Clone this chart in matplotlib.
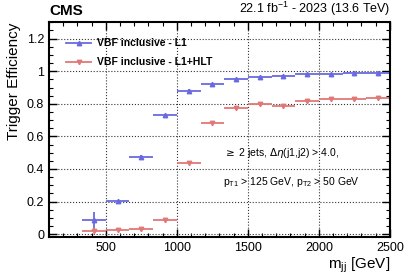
import numpy as np
from matplotlib import pyplot as plt
from matplotlib.ticker import MultipleLocator
from matplotlib.lines import Line2D

plt.rcParams['font.family'] = ['Liberation Sans', 'DejaVu Sans']

# 13 bins of mjj, width ~166.7 GeV
edges = [333.3, 500, 666.7, 833.3, 1000, 1166.7, 1333.3, 1500, 1666.7, 1833.3, 2000, 2166.7, 2333.3, 2500]
eff_l1 = [0.086, 0.204, 0.475, 0.730, 0.878, 0.924, 0.955, 0.965, 0.973, 0.980, 0.980, 0.986, 0.992]
err_l1 = [0.05, 0.008, 0.01, 0.01, 0.01, 0.006, 0.005, 0.004, 0.004, 0.004, 0.004, 0.004, 0.004]
eff_hlt = [0.020, 0.025, 0.030, 0.088, 0.438, 0.683, 0.772, 0.796, 0.786, 0.817, 0.831, 0.827, 0.835]
err_hlt = [0.015, 0.008, 0.008, 0.01, 0.01, 0.01, 0.01, 0.01, 0.01, 0.01, 0.01, 0.01, 0.01]

edges = np.array(edges)
centers = (edges[:-1] + edges[1:]) / 2
halfw = (edges[1:] - edges[:-1]) / 2

fig = plt.figure(figsize=(4.07, 2.76), dpi=100)
ax = fig.add_axes([0.1204, 0.1424, 0.8376, 0.7766])

blue = '#6a6ae0'
red = '#e07878'
ax.errorbar(centers, eff_l1, xerr=halfw, yerr=err_l1, fmt='^', color=blue,
            ms=3.2, lw=1.3, capsize=0)
ax.errorbar(centers, eff_hlt, xerr=halfw, yerr=err_hlt, fmt='v', color=red,
            ms=3.2, lw=1.3, capsize=0)

ax.set_xlim(100, 2500)
ax.set_ylim(-0.016, 1.3)
ax.xaxis.set_major_locator(MultipleLocator(500))
ax.xaxis.set_minor_locator(MultipleLocator(100))
ax.yaxis.set_minor_locator(MultipleLocator(0.05))
ax.set_yticks([0, 0.2, 0.4, 0.6, 0.8, 1.0, 1.2])
ax.set_yticklabels(['0', '0.2', '0.4', '0.6', '0.8', '1', '1.2'])
ax.tick_params(which='both', direction='in', top=True, right=True, labelsize=9)
ax.tick_params(which='major', length=6, width=1)
ax.tick_params(which='minor', length=3, width=0.8)
ax.grid(True, which='major', linestyle=':', color='#333333', lw=0.8)
for s in ax.spines.values():
    s.set_linewidth(1.5)

ax.set_ylabel('Trigger Efficiency', fontsize=11, loc='top')
ax.set_xlabel(r'm$_{\mathregular{jj}}$ [GeV]', fontsize=11, loc='right', labelpad=1)

handles = [Line2D([], [], color=blue, marker='^', ms=3.2, lw=1.3),
           Line2D([], [], color=red, marker='v', ms=3.2, lw=1.3)]
ax.legend(handles, ['VBF inclusive - L1', 'VBF inclusive - L1+HLT'],
          loc='upper left', bbox_to_anchor=(0.05, 0.925), frameon=False,
          prop={'size': 7.5, 'weight': 'bold'}, handlelength=2.4,
          handletextpad=0.6, labelspacing=0.85, borderaxespad=0, borderpad=0)

ax.text(0.51, 0.39, r'$\geq$ 2 jets, $\Delta\eta$(j1,j2) > 4.0,', transform=ax.transAxes,
        fontsize=7.5, va='center')
ax.text(0.51, 0.255, r'p$_{\mathregular{T1}}$ > 125 GeV, p$_{\mathregular{T2}}$ > 50 GeV',
        transform=ax.transAxes, fontsize=7.5, va='center')

fig.text(0.1204, 0.935, 'CMS', fontsize=11, fontweight='bold', ha='left', va='bottom')
fig.text(0.958, 0.935, r'22.1 fb$^{\mathregular{-1}}$ - 2023 (13.6 TeV)', fontsize=9, ha='right', va='bottom')

fig.savefig('out.png', dpi=100)
